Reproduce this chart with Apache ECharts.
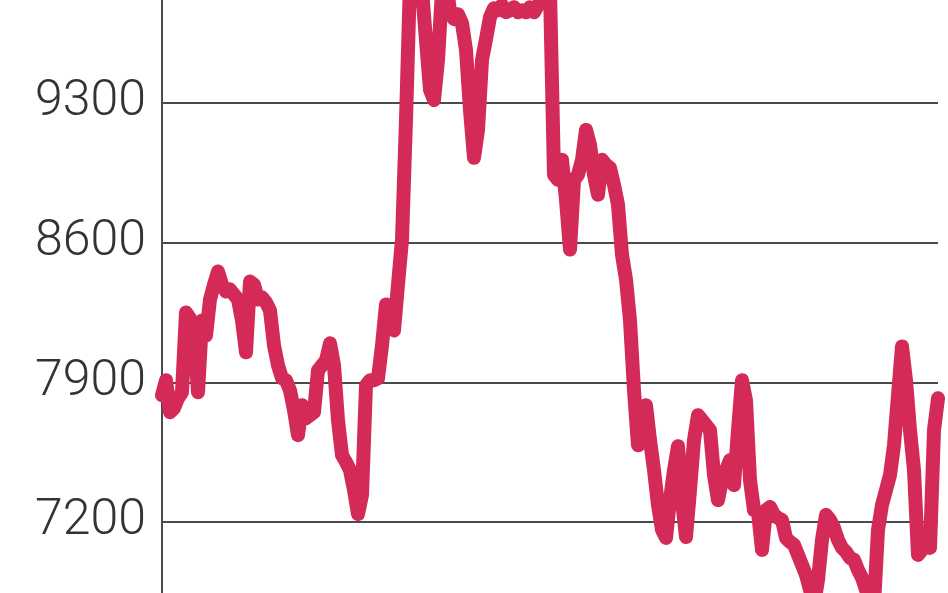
<!DOCTYPE html>
<html>
<head>
<meta charset="utf-8">
<script src="https://cdn.jsdelivr.net/npm/echarts@6/dist/echarts.min.js"></script>
<style>
  html, body { margin: 0; padding: 0; background: #ffffff; }
  #chart { width: 948px; height: 593px; }
</style>
</head>
<body>
<div id="chart"></div>
<script>
// Y-axis tick labels shown in the reference
const yTicks = [7200, 7900, 8600, 9300];

// Visible value range of the cropped chart (bottom edge, top edge)
const yMin = 6844;
const yMax = 9816;

// Series values (left to right)
const values = [
  7835, 7910, 7750, 7770, 7820, 7850, 8250, 8220, 8160, 7850,
  8210, 8135, 8315, 8390, 8455, 8390, 8355, 8365, 8340, 8315,
  8210, 8050, 8405, 8390, 8315, 8325, 8300, 8260, 8085, 7985,
  7920, 7910, 7860, 7760, 7635, 7785, 7720, 7735, 7750, 7960,
  7985, 8010, 8095, 7985, 7710, 7535, 7500, 7460, 7360, 7240,
  7335, 7885, 7910, 7910, 7920, 8085, 8290, 8210, 8160, 8390,
  8615, 9215, 9915, 9965, 9940, 9865, 9615, 9365, 9315, 9515,
  9865, 9915, 9760, 9720, 9745, 9700, 9565, 9265, 9025, 9165,
  9515, 9620, 9730, 9775, 9765, 9790, 9755, 9765, 9780, 9755,
  9765, 9755, 9780, 9755, 9790, 9810, 9890, 9865, 8940, 8915,
  9015, 8815, 8565, 8915, 8940, 9015, 9165, 9090, 8940, 8840,
  9015, 8990, 8975, 8890, 8790, 8540, 8415, 8210, 7860, 7585,
  7760, 7785, 7610, 7460, 7285, 7160, 7120, 7310, 7460, 7580,
  7310, 7125, 7360, 7610, 7735, 7710, 7685, 7660, 7435, 7310,
  7410, 7460, 7510, 7385, 7660, 7910, 7810, 7410, 7260, 7250,
  7060, 7260, 7275, 7235, 7220, 7210, 7120, 7100, 7085, 7035,
  6985, 6935, 6860, 6785, 6910, 7110, 7235, 7210, 7170, 7110,
  7070, 7050, 7020, 7010, 6960, 6920, 6860, 6810, 6785, 7160,
  7285, 7360, 7435, 7585, 7835, 8080, 7910, 7660, 7460, 7035,
  7060, 7085, 7070, 7660, 7820
];

// Categories: one per observation
const days = values.map((_, i) => i);

const chart = echarts.init(document.getElementById('chart'), null, { renderer: 'canvas' });
chart.setOption({
  animation: false,
  backgroundColor: '#ffffff',
  grid: { left: 162, right: 10, top: 0, bottom: 0, containLabel: false },
  xAxis: {
    type: 'category',
    data: days,
    boundaryGap: false,
    show: false
  },
  yAxis: {
    type: 'value',
    min: yMin,
    max: yMax,
    axisLine: { show: true, lineStyle: { color: '#4a4a4a', width: 2 } },
    axisTick: { show: false, customValues: yTicks },
    splitLine: { show: true, lineStyle: { color: '#4a4a4a', width: 2 } },
    axisLabel: {
      customValues: yTicks,
      margin: 16,
      color: '#333333',
      fontFamily: 'Roboto',
      fontWeight: 300,
      fontSize: 50,
      formatter: v => String(v)
    }
  },
  series: [{
    type: 'line',
    data: values,
    symbol: 'none',
    smooth: false,
    lineStyle: { color: '#d42a58', width: 14, join: 'round', cap: 'round' }
  }]
});
</script>
</body>
</html>
